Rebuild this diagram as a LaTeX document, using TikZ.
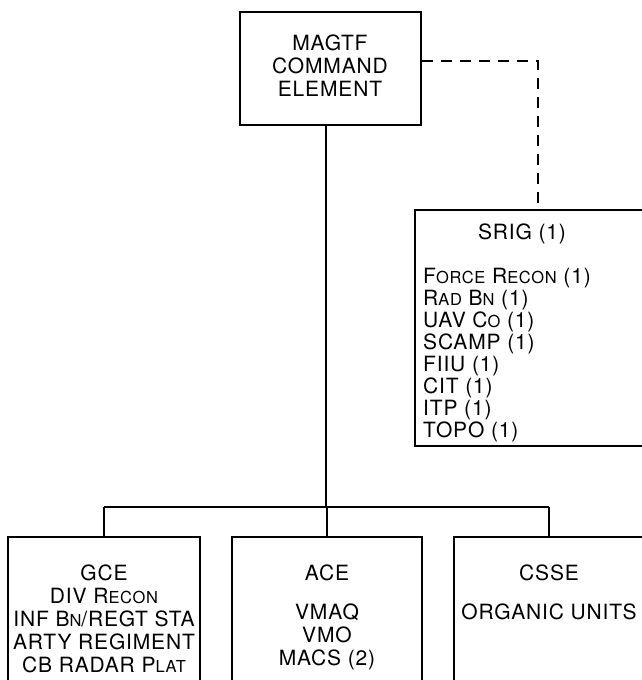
\documentclass[tikz,border=0pt]{standalone}
\usepackage{fontspec}
\setmainfont{TeX Gyre Heros}[LetterSpace=4]
\newcommand\smcap[1]{{\fontsize{16.5}{16.5}\selectfont\MakeUppercase{#1}}}
\begin{document}
\begin{tikzpicture}[x=1pt,y=-1pt,
  box/.style={draw, line width=1.9pt, rectangle, inner sep=0pt},
  conn/.style={line width=1.9pt},
  dconn/.style={line width=1.5pt, dash pattern=on 11pt off 8pt},
  txt/.style={font=\fontsize{21}{23}\selectfont, inner sep=0pt, align=center},
  ltxt/.style={font=\fontsize{21}{22}\selectfont, inner sep=0pt, align=left}]
\useasboundingbox (0,0) rectangle (641,680);
% boxes
\node[box, minimum width=181pt, minimum height=113pt] (magtf) at (330.5,68.5) {};
\node[box, minimum width=245pt, minimum height=236pt] (srig) at (537.5,328) {};
\node[box, minimum width=192pt, minimum height=163pt] (gce) at (104,618.5) {};
\node[box, minimum width=190pt, minimum height=163pt] (ace) at (327,618.5) {};
\node[box, minimum width=190pt, minimum height=163pt] (csse) at (549,618.5) {};
% texts
\node[txt, anchor=north] (magtft) at (330,35) {MAGTF\\COMMAND\\ELEMENT};
\node[txt, anchor=north] (srigt) at (522,224) {SRIG (1)};
\node[ltxt, anchor=north west] (srigl) at (423,268) {F\smcap{orce} R\smcap{econ} (1)\\R\smcap{ad} B\smcap{n} (1)\\UAV C\smcap{o} (1)\\SCAMP (1)\\FIIU (1)\\CIT (1)\\ITP (1)\\TOPO (1)};
\node[txt, anchor=north] (gcet) at (104,565) {GCE\\DIV R\smcap{econ}\\INF B\smcap{n}/REGT STA\\ARTY REGIMENT\\CB RADAR P\smcap{lat}};
\node[txt, anchor=north] (acet) at (327,565) {ACE};
\node[txt, anchor=north] (acel) at (327,604) {VMAQ\\VMO\\MACS (2)};
\node[txt, anchor=north] (csset) at (549,565) {CSSE};
\node[txt, anchor=north] (cssel) at (549,604) {ORGANIC UNITS};
% connectors
\coordinate (bus) at (326,507);
\coordinate (dc) at (538,61);
\draw[conn] (bus |- magtf.south) -- (bus);
\draw[conn] (gce.north |- bus) -- (csse.north |- bus);
\draw[conn] (gce.north |- bus) -- (gce.north);
\draw[conn] (ace.north |- bus) -- (ace.north);
\draw[conn] (csse.north |- bus) -- (csse.north);
\draw[dconn] (dc -| magtf.east) -- (dc) -- (dc |- srig.north);
\end{tikzpicture}
\end{document}
